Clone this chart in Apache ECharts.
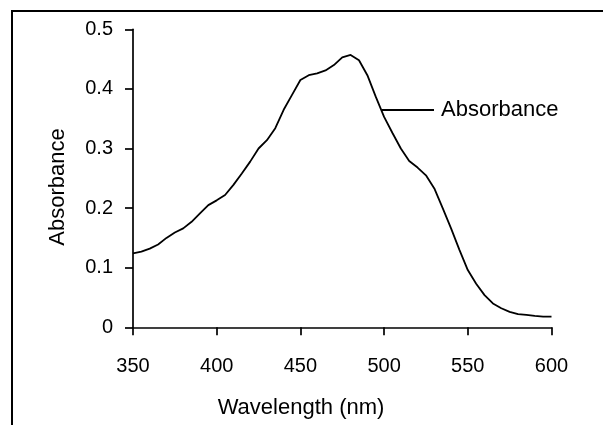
<!DOCTYPE html>
<html>
<head>
<meta charset="utf-8">
<script src="https://cdn.jsdelivr.net/npm/echarts@6/dist/echarts.min.js"></script>
<style>
html,body{margin:0;padding:0;background:#fff;}
#c{width:603px;height:425px;}
</style>
</head>
<body>
<div id="c"></div>
<script>
const wavelengths = [350,355,360,365,370,375,380,385,390,395,400,405,410,415,420,425,430,435,440,445,450,455,460,465,470,475,480,485,490,495,500,505,510,515,520,525,530,535,540,545,550,555,560,565,570,575,580,585,590,595,600];
const absorbance = [0.124,0.127,0.132,0.139,0.150,0.159,0.166,0.177,0.191,0.205,0.213,0.222,0.239,0.258,0.278,0.300,0.314,0.334,0.365,0.390,0.415,0.423,0.426,0.431,0.440,0.453,0.457,0.448,0.423,0.387,0.353,0.326,0.300,0.279,0.268,0.255,0.233,0.200,0.166,0.130,0.096,0.073,0.054,0.040,0.032,0.026,0.022,0.021,0.019,0.018,0.018];
const seriesName = 'Absorbance';
const xTitle = 'Wavelength (nm)';
const yTitle = 'Absorbance';

const data = wavelengths.map((w, i) => [w, absorbance[i]]);
const font = 'Liberation Sans, Arial, sans-serif';

const chart = echarts.init(document.getElementById('c'), null, {renderer: 'canvas'});
chart.setOption({
  backgroundColor: '#fff',
  animation: false,
  grid: {left: 133, right: 51.5, top: 29.3, bottom: 97.7, containLabel: false, outerBoundsMode: 'none'},
  legend: {
    data: [seriesName],
    left: 382, top: 99, padding: 0,
    icon: 'rect', itemWidth: 52, itemHeight: 2, itemGap: 7,
    textStyle: {fontFamily: font, fontSize: 22, color: '#000', padding: [0,0,0,2]}
  },
  xAxis: {
    type: 'value', min: 350, max: 600, interval: 50,
    axisLine: {show: true, onZero: false, lineStyle: {color: '#000', width: 1.7}},
    axisTick: {show: true, inside: false, length: 8, lineStyle: {color: '#000', width: 1.7}},
    axisLabel: {fontFamily: font, fontSize: 20, color: '#000', margin: 29},
    splitLine: {show: false}
  },
  yAxis: {
    type: 'value', min: 0, max: 0.5, interval: 0.1,
    axisLine: {show: true, lineStyle: {color: '#000', width: 1.7}},
    axisTick: {show: true, inside: false, length: 8, lineStyle: {color: '#000', width: 1.7}},
    axisLabel: {fontFamily: font, fontSize: 20, color: '#000', margin: 20},
    splitLine: {show: false}
  },
  graphic: [
    {type: 'rect', shape: {x: 12, y: 11, width: 800, height: 800}, style: {fill: null, stroke: '#000', lineWidth: 2}, z: -1, silent: true},
    {type: 'text', style: {text: xTitle, fontFamily: font, fontSize: 22, fill: '#000', textAlign: 'center', textVerticalAlign: 'middle'}, position: [301, 408], silent: true},
    {type: 'text', style: {text: yTitle, fontFamily: font, fontSize: 22, fill: '#000', textAlign: 'center', textVerticalAlign: 'middle'}, position: [58, 187], rotation: Math.PI/2, silent: true}
  ],
  series: [{
    name: seriesName, type: 'line', data: data,
    showSymbol: false, symbol: 'none',
    lineStyle: {color: '#000', width: 1.8}, itemStyle: {color: '#000'}
  }]
});
</script>
</body>
</html>
